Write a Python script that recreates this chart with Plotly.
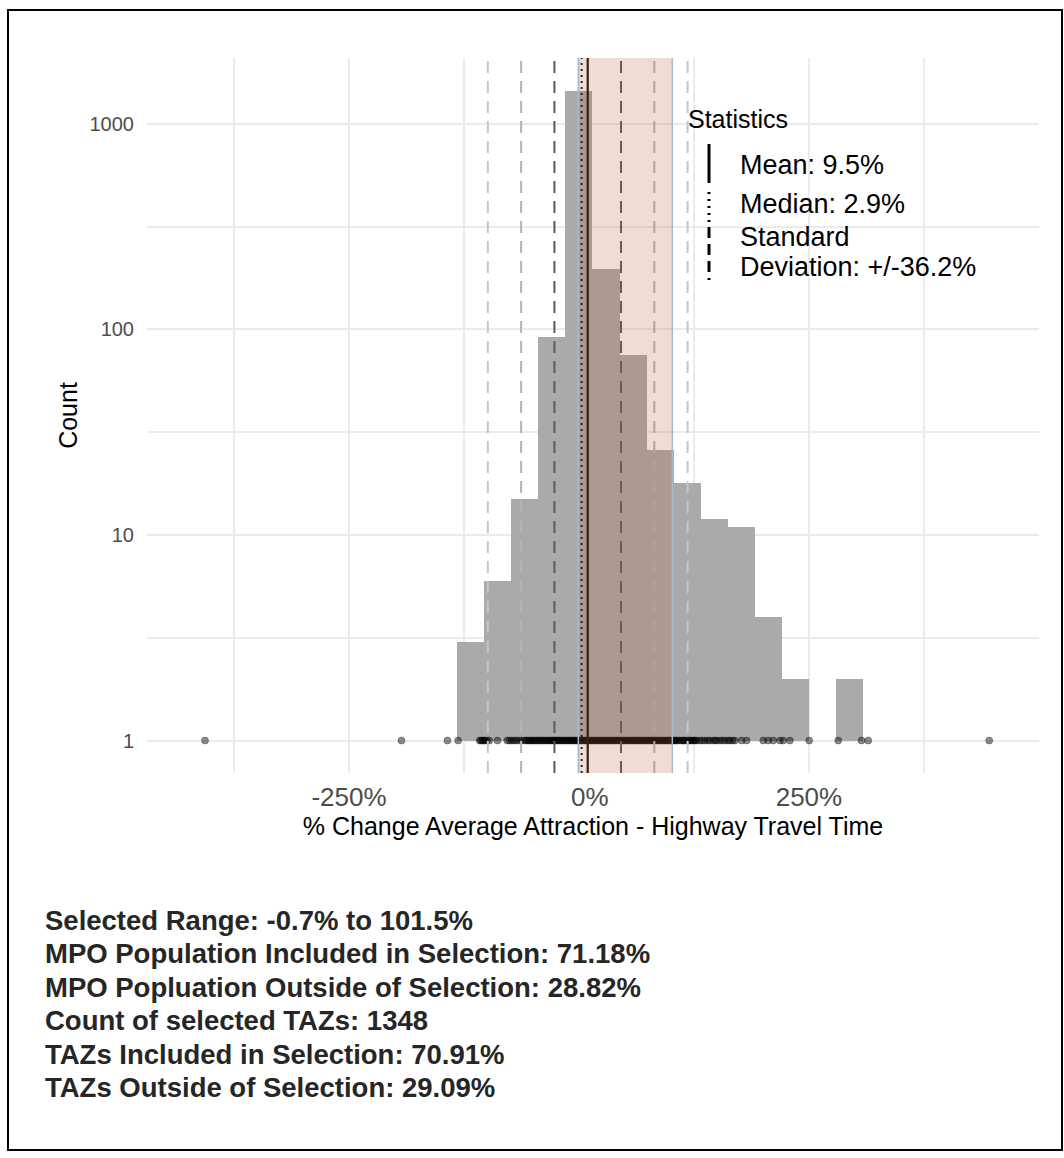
import plotly.graph_objects as go

# ---------------- data ----------------
bin_width = 29.4
bin_centers = [-117.6, -88.2, -58.8, -29.4, 0.0, 29.4, 58.8, 88.2, 117.6, 147.0, 176.4, 205.8, 235.2, 293.9]
bin_counts = [3, 6, 15, 92, 1450, 198, 75, 26, 18, 12, 11, 4, 2, 2]

# individual TAZ values drawn as a strip at count = 1 (% change)
strip_values = [
    -406.5, -193.0, -143.0, -131.4,
    -108.0, -106.5, -105.0, -103.5, -102.0, -100.0, -97.5, -88.6,
    -78.0, -75.5, -73.0, -70.5, -68.0, -65.0, -62.0, -59.0,
    -57.0, -55.4, -54.1, -52.0, -50.6, -49.2, -47.5, -46.1, -44.0, -42.6,
    -41.0, -39.4, -38.1, -36.0, -34.6, -33.1, -31.5, -30.2, -28.4, -27.0,
    -25.6, -24.1, -22.4, -21.0, -19.6, -18.1, -16.5, -15.0, -13.4, -12.1,
    -10.6, -9.0, -7.4, -6.1, -4.5, -3.0, -1.6, 0.0, 1.4, 3.1,
    4.5, 6.0, 7.6, 9.1, 10.4, 12.0, 13.6, 15.1, 16.4, 18.0,
    19.6, 21.1, 22.5, 24.0, 25.4, 27.1, 28.6, 30.0, 31.4, 33.1,
    34.5, 36.0, 37.6, 39.0, 40.4, 42.1, 43.5, 45.0, 46.6, 48.1,
    49.4, 51.0, 52.6, 54.0, 55.5, 57.1, 58.4, 60.0, 61.6, 63.1,
    64.5, 66.0, 67.4, 69.1, 70.6, 72.0, 73.4, 75.1, 76.5, 78.0,
    79.6, 81.0, 82.4, 84.1, 85.5, 87.0, 88.6, 90.1, 91.4, 93.0,
    94.6, 96.0, 97.4, 99.0,
    101.0, 102.5, 104.0, 105.5, 107.0, 109.0, 111.5, 113.0, 114.5, 116.0,
    118.5, 120.0, 121.5, 123.5, 125.0, 126.5, 128.0, 131.4, 134.0, 136.9,
    140.0, 142.3, 146.0, 148.0, 150.0, 153.2, 156.0, 158.6, 162.0, 164.1,
    167.0, 169.5, 176.8, 182.2,
    200.3, 205.7, 211.1, 218.4, 222.0, 229.3, 250.3, 281.8, 307.2, 314.4, 446.0,
]

mean_pct = 9.5
median_pct = 2.9
sd_pct = 36.2
sel_low = -0.7
sel_high = 101.5

x_tickvals = [-250, 0, 250]
x_ticktext = ["-250%", "\u00a0\u00a0\u00a00%", "250%"]
x_minor = [-375, -125, 125, 375]
y_tickvals = [1, 10, 100, 1000]
y_ticktext = ["1", "10", "100", "1000"]
y_minor = [3.162, 31.62, 316.2]

x_title = "% Change Average Attraction - Highway Travel Time"
y_title = "Count"
legend_title = "Statistics"
legend_labels = ["Mean: 9.5%", "Median: 2.9%", "Standard", "Deviation: +/-36.2%"]

summary_lines = [
    "Selected Range: -0.7% to 101.5%",
    "MPO Population Included in Selection: 71.18%",
    "MPO Popluation Outside of Selection: 28.82%",
    "Count of selected TAZs: 1348",
    "TAZs Included in Selection: 70.91%",
    "TAZs Outside of Selection: 29.09%",
]

# ---------------- layout geometry ----------------
W, H = 1064, 1158
ML, MR, MT, MB = 147, 25, 58, 385
PW = W - ML - MR
PH = H - MT - MB
FONT = "Liberation Sans, Arial, Helvetica, sans-serif"


def px_x(px):
    return (px - ML) / PW


def px_y(py):
    return (H - MB - py) / PH


fig = go.Figure()

fig.add_trace(go.Bar(
    x=bin_centers,
    y=[c - 1 for c in bin_counts],
    base=1,
    width=bin_width,
    marker=dict(color="#aaaaaa", line=dict(width=0)),
    showlegend=False,
    hoverinfo="skip",
))

fig.add_trace(go.Scatter(
    x=strip_values,
    y=[1] * len(strip_values),
    mode="markers",
    marker=dict(size=7, color="rgba(0,0,0,0.45)", line=dict(width=1, color="rgba(0,0,0,0.3)")),
    showlegend=False,
    hoverinfo="skip",
    cliponaxis=False,
))

shapes = []
sd_colors = {3: "#c6c6c6", 2: "#b5b5b5", 1: "#5a5a5a"}
for k in (3, 2, 1):
    for sgn in (-1, 1):
        xv = mean_pct + sgn * k * sd_pct
        shapes.append(dict(type="line", xref="x", yref="paper", x0=xv, x1=xv, y0=0, y1=1,
                           line=dict(color=sd_colors[k], width=2, dash="12px,8px"), layer="above"))
shapes.append(dict(type="line", xref="x", yref="paper", x0=median_pct, x1=median_pct, y0=0, y1=1,
                   line=dict(color="#111111", width=2, dash="2px,4px"), layer="above"))
shapes.append(dict(type="line", xref="x", yref="paper", x0=mean_pct, x1=mean_pct, y0=0, y1=1,
                   line=dict(color="#111111", width=2.2), layer="above"))
shapes.append(dict(type="rect", xref="x", yref="paper", x0=sel_low, x1=sel_high, y0=0, y1=1,
                   fillcolor="rgba(184,90,43,0.21)", line=dict(width=0), layer="above"))
for xv in (sel_low, sel_high):
    shapes.append(dict(type="line", xref="x", yref="paper", x0=xv, x1=xv, y0=0, y1=1,
                       line=dict(color="#a9b8d2", width=1.5), layer="above"))

# legend keys (vertical, like ggplot vline keys)
key_x = px_x(709)
shapes.append(dict(type="line", xref="paper", yref="paper", x0=key_x, x1=key_x,
                   y0=px_y(144), y1=px_y(183), line=dict(color="black", width=3)))
shapes.append(dict(type="line", xref="paper", yref="paper", x0=key_x, x1=key_x,
                   y0=px_y(192), y1=px_y(223), line=dict(color="black", width=3, dash="2px,5px")))
shapes.append(dict(type="line", xref="paper", yref="paper", x0=key_x, x1=key_x,
                   y0=px_y(227), y1=px_y(280), line=dict(color="black", width=3, dash="11px,6px")))

# outer frame
shapes.append(dict(type="rect", xref="paper", yref="paper", x0=px_x(8), x1=px_x(1062),
                   y0=px_y(1150), y1=px_y(10), line=dict(color="black", width=2), layer="above"))

annotations = []
annotations.append(dict(text=legend_title, xref="paper", yref="paper", x=px_x(686), y=px_y(119),
                        xanchor="left", yanchor="middle", showarrow=False,
                        font=dict(size=25, color="black", family=FONT)))
label_y = [165, 204, 237, 267]
for txt, yy in zip(legend_labels, label_y):
    annotations.append(dict(text=txt, xref="paper", yref="paper", x=px_x(738), y=px_y(yy),
                            xanchor="left", yanchor="middle", showarrow=False,
                            font=dict(size=27, color="black", family=FONT)))

for i, txt in enumerate(summary_lines):
    annotations.append(dict(text="<b>" + txt + "</b>", xref="paper", yref="paper",
                            x=px_x(43), y=px_y(920 + i * 33.5),
                            xanchor="left", yanchor="middle", showarrow=False,
                            font=dict(size=27.5, color="#262626", family=FONT)))

fig.update_layout(
    width=W, height=H,
    margin=dict(l=ML, r=MR, t=MT, b=MB),
    paper_bgcolor="white", plot_bgcolor="white",
    font=dict(family=FONT),
    bargap=0,
    showlegend=False,
    shapes=shapes,
    annotations=annotations,
    xaxis=dict(
        range=[-469.6, 500.1],
        tickvals=x_tickvals, ticktext=x_ticktext,
        showgrid=True, gridcolor="#ebebeb", gridwidth=2,
        minor=dict(tickvals=x_minor, showgrid=True, gridcolor="#ebebeb", gridwidth=1.5),
        zeroline=False, showline=False, ticks="",
        tickfont=dict(size=26, color="#4d4d4d", family=FONT),
        ticklabelstandoff=6,
        title=dict(text=x_title, font=dict(size=25, color="black", family=FONT), standoff=4),
    ),
    yaxis=dict(
        type="log",
        range=[-0.158, 3.321],
        tickvals=y_tickvals, ticktext=y_ticktext,
        showgrid=True, gridcolor="#ebebeb", gridwidth=2,
        minor=dict(tickvals=y_minor, showgrid=True, gridcolor="#ebebeb", gridwidth=1.5),
        zeroline=False, showline=False, ticks="",
        tickfont=dict(size=20, color="#4d4d4d", family=FONT),
        ticklabelstandoff=12,
        title=dict(text=y_title, font=dict(size=25, color="black", family=FONT), standoff=4),
    ),
)

fig.write_html("out.html", config={"displayModeBar": False},
               post_script="document.body.style.margin='0';")
